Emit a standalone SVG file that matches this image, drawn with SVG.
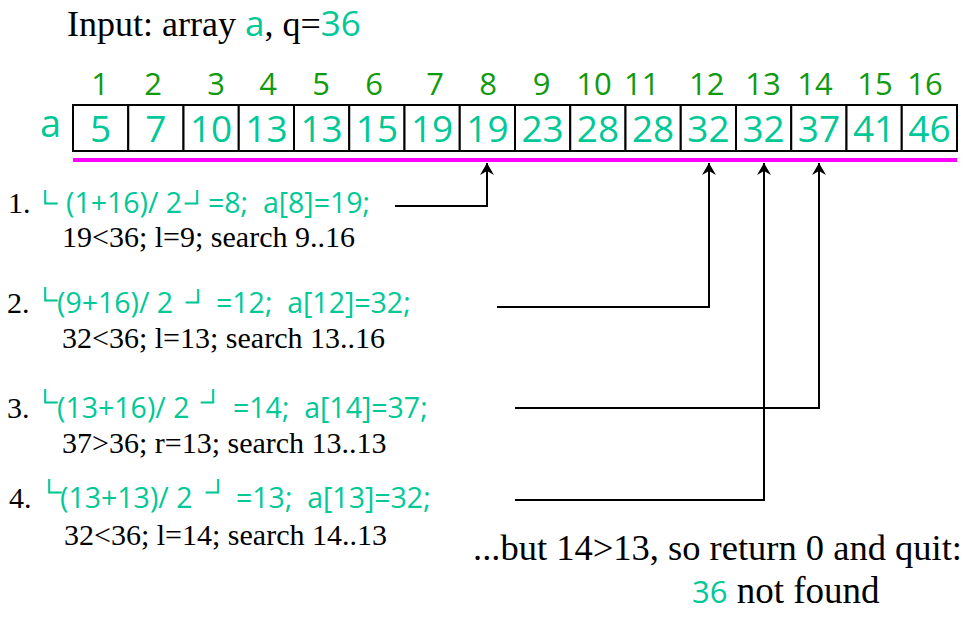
<svg xmlns="http://www.w3.org/2000/svg" width="976" height="618" viewBox="0 0 976 618">
<style>
.bg{fill:#fff}
.serif{font-family:"Liberation Serif","Times New Roman",serif;fill:#000}
.t36{font-size:36px}
.t30{font-size:30px}
.mint{font-family:"Open Sans","Noto Sans",sans-serif;fill:#00C896}
.idx{font-family:"Open Sans","Noto Sans",sans-serif;fill:#0F9A0F;font-size:31px;text-anchor:middle}
.val{font-family:"Open Sans","Noto Sans",sans-serif;fill:#00C896;font-size:37px;text-anchor:middle}
.f28{font-size:28.5px}
.fl{font-family:"Noto Sans CJK SC",sans-serif;fill:#00C896;font-size:24px;stroke:#00C896;stroke-width:1}
.cell{fill:#fff;stroke:#000;stroke-width:2}
.conn{fill:none;stroke:#000;stroke-width:2}
.pre{white-space:pre}
</style>
<defs>
<marker id="ah" markerUnits="userSpaceOnUse" markerWidth="16" markerHeight="16" viewBox="-13 -8 14 16" refX="0" refY="0" orient="auto">
<path d="M0,0 L-12,-7 L-8,0 L-12,7 Z" fill="#000"/>
</marker>
</defs>
<rect class="bg" x="0" y="0" width="976" height="618"/>

<g id="title">
<text class="serif t36 pre" x="67" y="36">Input: array <tspan class="mint" font-size="35">a</tspan>, q=<tspan class="mint" font-size="35">36</tspan></text>
</g>

<g id="array-label">
<text class="mint" font-size="38" x="40" y="137">a</text>
</g>

<g id="array">
<g id="cell-1"><rect class="cell" x="73" y="105" width="55.25" height="46" stroke="#555"/><text class="idx" x="100" y="95">1</text><text class="val" x="100.6" y="142">5</text></g>
<g id="cell-2"><rect class="cell" x="128.25" y="105" width="55.25" height="46"/><text class="idx" x="153" y="95">2</text><text class="val" x="155.9" y="142">7</text></g>
<g id="cell-3"><rect class="cell" x="183.5" y="105" width="55.25" height="46"/><text class="idx" x="216" y="95">3</text><text class="val" x="211.1" y="142">10</text></g>
<g id="cell-4"><rect class="cell" x="238.75" y="105" width="55.25" height="46"/><text class="idx" x="268" y="95">4</text><text class="val" x="266.4" y="142">13</text></g>
<g id="cell-5"><rect class="cell" x="294" y="105" width="55.25" height="46"/><text class="idx" x="321" y="95">5</text><text class="val" x="321.6" y="142">13</text></g>
<g id="cell-6"><rect class="cell" x="349.25" y="105" width="55.25" height="46"/><text class="idx" x="374" y="95">6</text><text class="val" x="376.9" y="142">15</text></g>
<g id="cell-7"><rect class="cell" x="404.5" y="105" width="55.25" height="46"/><text class="idx" x="435" y="95">7</text><text class="val" x="432.1" y="142">19</text></g>
<g id="cell-8"><rect class="cell" x="459.75" y="105" width="55.25" height="46"/><text class="idx" x="488" y="95">8</text><text class="val" x="487.4" y="142">19</text></g>
<g id="cell-9"><rect class="cell" x="515" y="105" width="55.25" height="46"/><text class="idx" x="541.7" y="95">9</text><text class="val" x="542.6" y="142">23</text></g>
<g id="cell-10"><rect class="cell" x="570.25" y="105" width="55.25" height="46"/><text class="idx" x="594" y="95">10</text><text class="val" x="597.9" y="142">28</text></g>
<g id="cell-11"><rect class="cell" x="625.5" y="105" width="55.25" height="46"/><text class="idx" x="641.7" y="95">11</text><text class="val" x="653.1" y="142">28</text></g>
<g id="cell-12"><rect class="cell" x="680.75" y="105" width="55.25" height="46"/><text class="idx" x="706.7" y="95">12</text><text class="val" x="708.4" y="142">32</text></g>
<g id="cell-13"><rect class="cell" x="736" y="105" width="55.25" height="46"/><text class="idx" x="763" y="95">13</text><text class="val" x="763.6" y="142">32</text></g>
<g id="cell-14"><rect class="cell" x="791.25" y="105" width="55.25" height="46"/><text class="idx" x="815" y="95">14</text><text class="val" x="818.9" y="142">37</text></g>
<g id="cell-15"><rect class="cell" x="846.5" y="105" width="55.25" height="46"/><text class="idx" x="875" y="95">15</text><text class="val" x="874.1" y="142">41</text></g>
<g id="cell-16"><rect class="cell" x="901.75" y="105" width="55.25" height="46"/><text class="idx" x="925" y="95">16</text><text class="val" x="929.4" y="142">46</text></g>
<line id="range-bar" x1="73" y1="160" x2="957" y2="160" stroke="#FF00FF" stroke-width="4"/>
</g>

<g id="step-1">
<text class="serif t30" x="8" y="213">1.</text>
<text class="fl" x="33" y="212">└</text>
<text class="mint f28 pre" x="66" y="213">(1+16)/ 2</text>
<text class="fl" x="185" y="212">┘</text>
<text class="mint f28 pre" x="208" y="213">=8;  a[8]=19;</text>
<text class="serif t30" x="62" y="247">19&lt;36; l=9; search 9..16</text>
</g>

<g id="step-2">
<text class="serif t30" x="7" y="313">2.</text>
<text class="fl" x="33" y="309">└</text>
<text class="mint f28 pre" x="57" y="313">(9+16)/ 2</text>
<text class="fl" x="186" y="311">┘</text>
<text class="mint f28 pre" x="216" y="313">=12;  a[12]=32;</text>
<text class="serif t30" x="62" y="348">32&lt;36; l=13; search 13..16</text>
</g>

<g id="step-3">
<text class="serif t30" x="7" y="418">3.</text>
<text class="fl" x="33" y="411">└</text>
<text class="mint f28 pre" x="57" y="418">(13+16)/ 2</text>
<text class="fl" x="201" y="411">┘</text>
<text class="mint f28 pre" x="233" y="418">=14;  a[14]=37;</text>
<text class="serif t30" x="62" y="453">37&gt;36; r=13; search 13..13</text>
</g>

<g id="step-4">
<text class="serif t30" x="9" y="508">4.</text>
<text class="fl" x="37" y="501">└</text>
<text class="mint f28 pre" x="60" y="508">(13+13)/ 2</text>
<text class="fl" x="206" y="501">┘</text>
<text class="mint f28 pre" x="236" y="508">=13;  a[13]=32;</text>
<text class="serif t30" x="64" y="545">32&lt;36; l=14; search 14..13</text>
</g>

<g id="conclusion">
<text class="serif" font-size="36.5" x="473" y="560">...but 14&gt;13, so return 0 and quit:</text>
<text class="serif pre" font-size="37" x="692" y="603"><tspan class="mint" font-size="31">36</tspan> not found</text>
</g>

<g id="connectors">
<path class="conn" d="M395,206 H487 V163" marker-end="url(#ah)"/>
<path class="conn" d="M497,307 H709 V163" marker-end="url(#ah)"/>
<path class="conn" d="M515,408 H819 V163" marker-end="url(#ah)"/>
<path class="conn" d="M515,500 H764 V163" marker-end="url(#ah)"/>
</g>
</svg>
